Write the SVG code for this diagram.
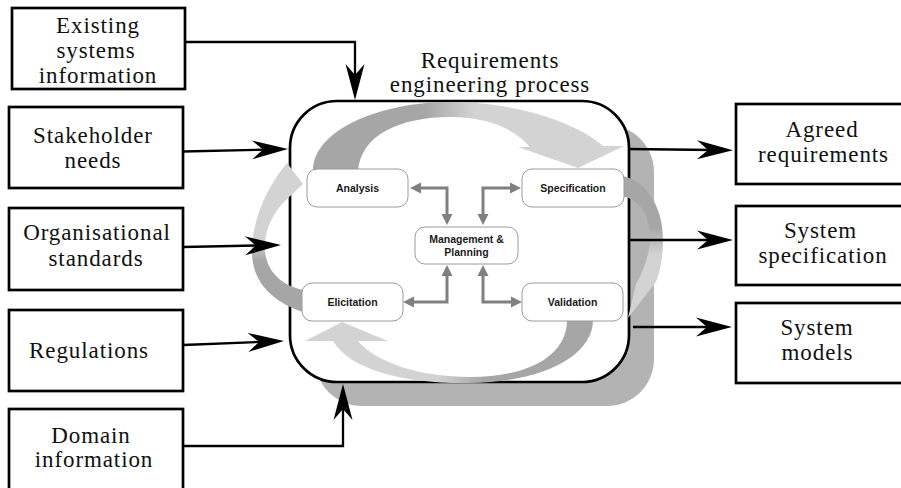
<svg xmlns="http://www.w3.org/2000/svg" width="901" height="488" viewBox="0 0 901 488">
  <style>
    .box { fill: #ffffff; stroke: #000000; stroke-width: 2.7; }
    .lbl { font-family: "Liberation Serif", "Times New Roman", serif; font-size: 23px; letter-spacing: 0.9px; fill: #111111; text-anchor: middle; }
    .act { fill: #ffffff; stroke: #9a9a9a; stroke-width: 1; }
    .actl { font-family: "Liberation Sans", Arial, sans-serif; font-size: 10.5px; font-weight: bold; fill: #1a1a1a; text-anchor: middle; }
    .flow { fill: none; stroke: #000000; stroke-width: 2.3; marker-end: url(#stealth); }
    .link { fill: none; stroke: #808080; stroke-width: 3; marker-start: url(#tri); marker-end: url(#tri); }
  </style>
  <defs>
    <marker id="stealth" viewBox="-17 -10 38 20" markerWidth="38" markerHeight="20" refX="0" refY="0" orient="auto" markerUnits="userSpaceOnUse">
      <path d="M20,0 L-16,-9.5 L-5,0 L-16,9.5 Z" fill="#000000"/>
    </marker>
    <marker id="tri" viewBox="-4 -6 13 12" markerWidth="13" markerHeight="12" refX="0" refY="0" orient="auto-start-reverse" markerUnits="userSpaceOnUse">
      <path d="M8,0 L-3,-5.5 L-3,5.5 Z" fill="#808080"/>
    </marker>
    <linearGradient id="gTop" x1="0" y1="0" x2="1" y2="0">
      <stop offset="0.36" stop-color="#a6a6a6"/>
      <stop offset="0.52" stop-color="#d3d3d3"/>
    </linearGradient>
    <linearGradient id="gRight" x1="0" y1="0" x2="0" y2="1">
      <stop offset="0.36" stop-color="#a6a6a6"/>
      <stop offset="0.56" stop-color="#d3d3d3"/>
    </linearGradient>
    <linearGradient id="gBottom" x1="0" y1="0" x2="1" y2="0">
      <stop offset="0.46" stop-color="#d3d3d3"/>
      <stop offset="0.62" stop-color="#a6a6a6"/>
    </linearGradient>
    <linearGradient id="gLeft" x1="0" y1="0" x2="0" y2="1">
      <stop offset="0.52" stop-color="#d3d3d3"/>
      <stop offset="0.66" stop-color="#a6a6a6"/>
    </linearGradient>
  </defs>

  <!-- process container with drop shadow -->
  <g id="process">
    <rect x="315" y="125" width="339" height="281" rx="47" fill="#b3b3b3"/>
    <rect x="290" y="101" width="339" height="281" rx="47" fill="#ffffff" stroke="#000000" stroke-width="2.7"/>
    <text class="lbl" x="490" y="68">Requirements</text>
    <text class="lbl" x="490" y="92">engineering process</text>
  </g>

  <!-- cycle arrows between activities -->
  <g id="cycle">
    <path d="M313,172 C312,130 380,102 450,102 C520,102 580,125 603,146 L624,146 L578,168 L518,147 L530,147 C515,130 490,117 450,117 C400,117 360,135 358,172 Z" fill="url(#gTop)"/>
    <path d="M622,176 C645,180 663,205 663,240 C663,258 660,272 656,282 L628,318 L636,284 C645,268 650,252 650,238 C650,215 640,200 622,196 Z" fill="url(#gRight)"/>
    <path d="M593,320 C593,355 545,382 470,383 C405,384 350,370 333,341 L305,341 L342,322 L388,341 L358,341 C375,362 420,377 470,377 C530,377 567,355 567,320 Z" fill="url(#gBottom)"/>
    <path d="M303,312 C268,300 250,278 252,246 C254,215 268,186 287,163 L303,184 L287,199 C273,212 264,230 265,250 C266,270 280,285 303,290 Z" fill="url(#gLeft)"/>
  </g>

  <!-- links to management & planning -->
  <g id="links">
    <path class="link" d="M447,217 V188 H418"/>
    <path class="link" d="M483,217 V188 H513"/>
    <path class="link" d="M447,273 V302 H411"/>
    <path class="link" d="M483,273 V302 H514"/>
  </g>

  <g id="analysis">
    <rect class="act" x="307" y="169" width="101" height="38" rx="10"/>
    <text class="actl" x="357.5" y="192">Analysis</text>
  </g>
  <g id="specification">
    <rect class="act" x="522" y="169" width="102" height="38" rx="10"/>
    <text class="actl" x="573" y="192">Specification</text>
  </g>
  <g id="management">
    <rect class="act" x="415" y="227" width="103" height="37" rx="10"/>
    <text class="actl" x="466.5" y="243">Management &amp;</text>
    <text class="actl" x="466.5" y="256">Planning</text>
  </g>
  <g id="elicitation">
    <rect class="act" x="302" y="283" width="101" height="38" rx="10"/>
    <text class="actl" x="352.5" y="306">Elicitation</text>
  </g>
  <g id="validation">
    <rect class="act" x="522" y="283" width="101" height="38" rx="10"/>
    <text class="actl" x="572.5" y="306">Validation</text>
  </g>

  <!-- inputs -->
  <g id="existing">
    <rect class="box" x="12" y="8" width="173" height="81"/>
    <text class="lbl" x="98" y="33">Existing</text>
    <text class="lbl" x="96" y="58">systems</text>
    <text class="lbl" x="98" y="82.5">information</text>
  </g>
  <g id="stakeholder">
    <rect class="box" x="9" y="107" width="174" height="81"/>
    <text class="lbl" x="93" y="143">Stakeholder</text>
    <text class="lbl" x="93" y="168">needs</text>
  </g>
  <g id="standards">
    <rect class="box" x="9" y="208" width="174" height="82"/>
    <text class="lbl" x="97" y="240">Organisational</text>
    <text class="lbl" x="96" y="265.5">standards</text>
  </g>
  <g id="regulations">
    <rect class="box" x="9" y="310" width="174" height="81"/>
    <text class="lbl" x="89" y="358">Regulations</text>
  </g>
  <g id="domain">
    <rect class="box" x="9" y="409" width="174" height="92"/>
    <text class="lbl" x="91" y="443">Domain</text>
    <text class="lbl" x="94" y="466.5">information</text>
  </g>

  <!-- outputs -->
  <g id="agreed">
    <rect class="box" x="736" y="104" width="172" height="80"/>
    <text class="lbl" x="822" y="136.5">Agreed</text>
    <text class="lbl" x="823.5" y="161.5">requirements</text>
  </g>
  <g id="sysspec">
    <rect class="box" x="736" y="206" width="172" height="79"/>
    <text class="lbl" x="820.5" y="238">System</text>
    <text class="lbl" x="823" y="263">specification</text>
  </g>
  <g id="models">
    <rect class="box" x="736" y="303" width="172" height="80"/>
    <text class="lbl" x="817" y="335">System</text>
    <text class="lbl" x="817.5" y="360">models</text>
  </g>

  <!-- input and output flows -->
  <g id="flows">
    <path class="flow" d="M185,42 H355 V80"/>
    <path class="flow" d="M183,151.5 L268,149.5"/>
    <path class="flow" d="M183,247 L261,245.4"/>
    <path class="flow" d="M183,345 L264,341.8"/>
    <path class="flow" d="M183,446 H343 V404"/>
    <path class="flow" d="M628,149 L713,150"/>
    <path class="flow" d="M628,240 L713,240"/>
    <path class="flow" d="M633,327 L712,327"/>
  </g>
</svg>
